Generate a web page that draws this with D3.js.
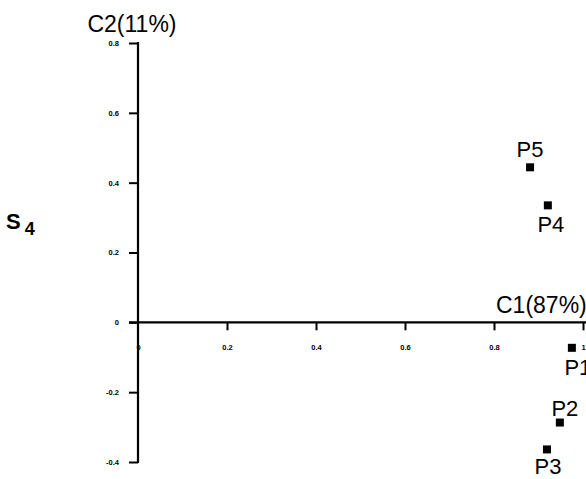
<!DOCTYPE html>
<html>
<head>
<meta charset="utf-8">
<script src="https://cdn.jsdelivr.net/npm/d3@7"></script>
<style>
  body { margin: 0; background: #fff; }
  svg { display: block; font-family: "Liberation Sans", Arial, sans-serif; }
</style>
</head>
<body>
<div class="plot"></div>
<script>
// points of the factor map
const names = ['P1', 'P2', 'P3', 'P4', 'P5'];
const c1 = [0.975, 0.948, 0.919, 0.921, 0.881];
const c2 = [-0.073, -0.287, -0.364, 0.335, 0.444];

const xTicks = [0, 0.2, 0.4, 0.6, 0.8, 1];
const yTicks = [-0.4, -0.2, 0, 0.2, 0.4, 0.6, 0.8];

const data = names.map((n, i) => ({ name: n, x: c1[i], y: c2[i] }));

const width = 586;
const height = 479;

const svg = d3
  .select('.plot')
  .append('svg')
  .attr('width', width)
  .attr('height', height);

const x = d3.scaleLinear().domain([0, 1]).range([138, 583]);
const y = d3.scaleLinear().domain([-0.4, 0.8]).range([462, 43]);

const fmt = (d) => (d === 0 ? '0' : d3.format('.1~f')(d).replace('−', '-'));

// vertical axis
const gy = svg
  .append('g')
  .attr('transform', `translate(${x(0)},0)`)
  .call(d3.axisLeft(y).tickValues(yTicks).tickSize(9).tickPadding(10).tickFormat(fmt));
gy.select('.domain').remove();
gy.selectAll('.tick line').attr('stroke', '#000').attr('stroke-width', 2);
gy.selectAll('.tick text')
  .attr('font-size', 7.5)
  .attr('font-weight', 'bold')
  .attr('fill', '#000');
gy.append('line')
  .attr('y1', y(0.8) - 1)
  .attr('y2', y(-0.4) + 1)
  .attr('stroke', '#000')
  .attr('stroke-width', 2.2);

// horizontal axis at C2 = 0
const gx = svg
  .append('g')
  .attr('transform', `translate(0,${y(0)})`)
  .call(d3.axisBottom(x).tickValues(xTicks).tickSize(8).tickPadding(14).tickFormat(fmt));
gx.select('.domain').remove();
gx.selectAll('.tick line')
  .attr('stroke', (d) => (d === 0 ? 'none' : '#000'))
  .attr('stroke-width', 2);
gx.selectAll('.tick text')
  .attr('font-size', 7.5)
  .attr('font-weight', 'bold')
  .attr('fill', '#000');
gx.append('line')
  .attr('x1', x(0) - 9)
  .attr('x2', width)
  .attr('stroke', '#000')
  .attr('stroke-width', 2.2);

// axis titles
svg
  .append('text')
  .attr('x', 132)
  .attr('y', 32)
  .attr('text-anchor', 'middle')
  .attr('font-size', 23)
  .text('C2(11%)');

svg
  .append('text')
  .attr('x', 496)
  .attr('y', 313)
  .attr('font-size', 23)
  .text('C1(87%)');

// panel label
const s = svg
  .append('text')
  .attr('x', 6)
  .attr('y', 229)
  .attr('font-size', 22)
  .attr('font-weight', 'bold');
s.append('tspan').text('S');
s.append('tspan').attr('dx', 4).attr('dy', 6).attr('font-size', 18).text('4');

// markers
svg
  .selectAll('rect.pt')
  .data(data)
  .enter()
  .append('rect')
  .attr('class', 'pt')
  .attr('x', (d) => x(d.x) - 4)
  .attr('y', (d) => y(d.y) - 4)
  .attr('width', 8)
  .attr('height', 8)
  .attr('fill', '#000');

// labels: above or below the marker
const labelOffset = {
  P1: [6, 27],
  P2: [5, -7],
  P3: [1, 25],
  P4: [3, 27],
  P5: [0, -10],
};

svg
  .selectAll('text.lbl')
  .data(data)
  .enter()
  .append('text')
  .attr('class', 'lbl')
  .attr('x', (d) => x(d.x) + labelOffset[d.name][0])
  .attr('y', (d) => y(d.y) + labelOffset[d.name][1])
  .attr('text-anchor', 'middle')
  .attr('font-size', 22)
  .text((d) => d.name);
</script>
</body>
</html>
